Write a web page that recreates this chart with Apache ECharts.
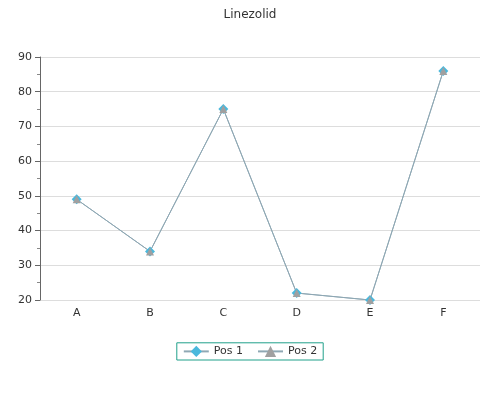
<!DOCTYPE html>
<html><head><meta charset="utf-8">
<script src="https://cdn.jsdelivr.net/npm/echarts@6/dist/echarts.min.js"></script>
</head><body style="margin:0">
<div id="c" style="width:500px;height:400px"></div>
<script>
var categories = ["A","B","C","D","E","F"];
var pos1 = [49,34,75,22,20,86];
var pos2 = [49,34,75,22,20,86];
var chart = echarts.init(document.getElementById('c'));
chart.setOption({
  animation:false,
  textStyle:{fontFamily:'DejaVu Sans'},
  title:{text:'Linezolid',left:'center',top:4,textStyle:{fontSize:12,fontWeight:'normal',color:'#333'}},
  grid:{left:40,right:20,top:57,bottom:100},
  legend:{bottom:40,left:'center',borderColor:'#20a08a',borderWidth:1,padding:[3,6],itemGap:14,
    textStyle:{fontSize:11,color:'#333'},data:['Pos 1','Pos 2']},
  xAxis:{type:'category',data:categories,axisTick:{show:false},
    axisLine:{show:false},axisLabel:{color:'#333',fontSize:11}},
  yAxis:{type:'value',min:20,max:90,interval:10,
    axisLine:{show:true,lineStyle:{color:'#666'}},axisTick:{show:true,lineStyle:{color:'#666'}},
    minorTick:{show:true,splitNumber:2,lineStyle:{color:'#888'}},
    axisLabel:{color:'#333',fontSize:11},splitLine:{lineStyle:{color:'#ddd'}}},
  series:[
    {name:'Pos 1',type:'line',data:pos1,symbol:'diamond',symbolSize:10,
      itemStyle:{color:'#4ab8dc'},lineStyle:{color:'#8fa8b4',width:1}},
    {name:'Pos 2',type:'line',data:pos2,symbol:'triangle',symbolSize:8,
      itemStyle:{color:'#a0a0a0'},lineStyle:{color:'#8fa8b4',width:1}}
  ]
});
</script></body></html>
